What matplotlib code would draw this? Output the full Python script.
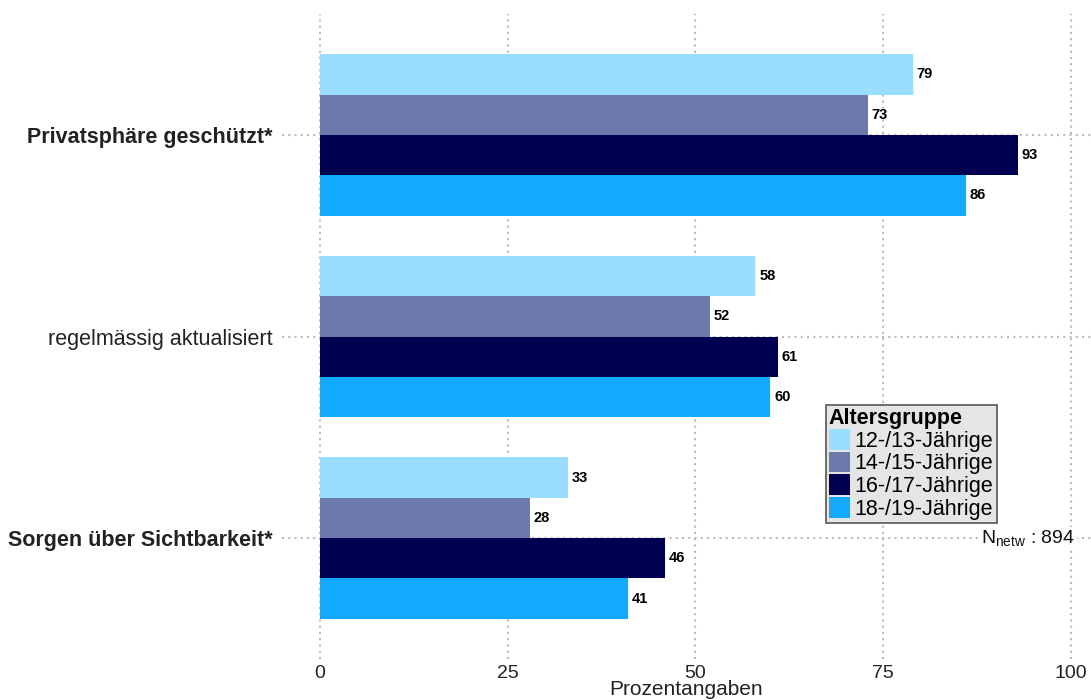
import matplotlib
matplotlib.use("Agg")
import matplotlib.pyplot as plt
import numpy as np

plt.rcParams['font.family'] = ['Liberation Sans', 'DejaVu Sans']
plt.rcParams['mathtext.fontset'] = 'custom'
plt.rcParams['mathtext.rm'] = 'Liberation Sans'
plt.rcParams['mathtext.it'] = 'Liberation Sans'

categories = ["Privatsphäre geschützt*", "regelmässig aktualisiert", "Sorgen über Sichtbarkeit*"]
cat_bold = [True, False, True]
groups = ["12-/13-Jährige", "14-/15-Jährige", "16-/17-Jährige", "18-/19-Jährige"]
values = [
    [79, 58, 33],   # 12-/13
    [73, 52, 28],   # 14-/15
    [93, 61, 46],   # 16-/17
    [86, 60, 41],   # 18-/19
]
colors = ["#99DDFF", "#6B79AD", "#000050", "#11AAFF"]
x_ticks = [0, 25, 50, 75, 100]
n_text = "N$_{\\mathregular{netw}}$ : 894"

fig = plt.figure(figsize=(10.91, 7), dpi=100)
ax = fig.add_axes([282 / 1091, 41 / 700, 809 / 1091, 645 / 700])

y = np.arange(len(categories))
h = 0.2
for i, (g, vals, c) in enumerate(zip(groups, values, colors)):
    pos = y + (i - 1.5) * h
    ax.barh(pos, vals, height=h, color=c, label=g, zorder=2)
    for p, v in zip(pos, vals):
        ax.text(v + 0.5, p, str(v), va="center", ha="left", fontsize=10.5,
                fontweight="bold", color="black", zorder=3)

ax.set_xlim(-5.05, 102.7)
ax.set_ylim(2.6, -0.6)
ax.set_xticks(x_ticks)
ax.set_yticks(y)
ax.set_yticklabels(categories)
for lab, b in zip(ax.get_yticklabels(), cat_bold):
    lab.set_fontsize(15.5)
    lab.set_color("#222222")
    if b:
        lab.set_fontweight("bold")
for lab in ax.get_xticklabels():
    lab.set_fontsize(14)
    lab.set_color("#222222")

ax.tick_params(axis="both", length=0)
ax.tick_params(axis="y", pad=7)
ax.tick_params(axis="x", pad=4)
ax.grid(True, color="#BBBBBB", linestyle=(0, (1, 2)), linewidth=1.5, zorder=0)
ax.set_axisbelow(True)
for s in ax.spines.values():
    s.set_visible(False)

ax.set_xlabel("Prozentangaben", fontsize=15, color="#222222", labelpad=-1)

leg = ax.legend(loc="upper left", bbox_to_anchor=(0.672, 0.394), title="Altersgruppe",
                fontsize=15.5, title_fontproperties={"weight": "bold", "size": 15.5},
                frameon=True, facecolor="#E5E5E5", edgecolor="#555555", framealpha=1,
                handlelength=1.0, handleheight=1.1, handletextpad=0.2,
                labelspacing=0, borderpad=0.15, borderaxespad=0, alignment="left")
leg.get_frame().set_linewidth(1.2)
leg.get_frame().set_boxstyle("square", pad=0)

ax.text(100.6, 2.0, n_text, ha="right", va="center", fontsize=14, color="#111111",
        bbox=dict(facecolor="white", edgecolor="none", pad=1), zorder=4)

fig.savefig("out.png", dpi=100)
